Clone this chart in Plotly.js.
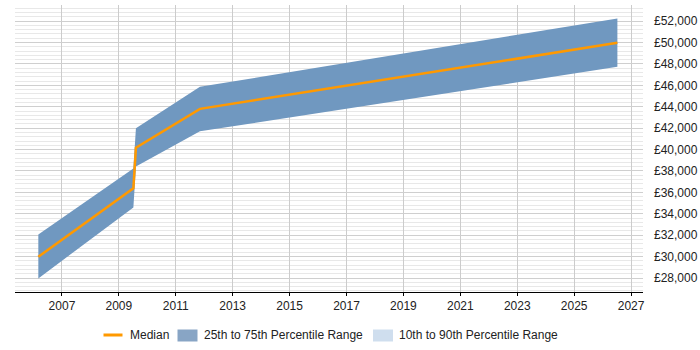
<!DOCTYPE html>
<html>
<head>
<meta charset="utf-8">
<script src="https://cdn.plot.ly/plotly-3.0.1.min.js"></script>
<style>
  html, body { margin: 0; padding: 0; background: #fff; }
  #chart { width: 700px; height: 350px; }
</style>
</head>
<body>
<div id="chart"></div>
<script>
// Salary trend: median with the 25th-75th percentile band
const years  = [2006.17, 2009.51, 2009.60, 2011.85, 2026.52];
const median = [29990, 36380, 40170, 43800, 49970];
const p75    = [32080, 38240, 41980, 45860, 52250];
const p25    = [27970, 34600, 38420, 41700, 47730];
const yearTicks = [2007, 2009, 2011, 2013, 2015, 2017, 2019, 2021, 2023, 2025, 2027];
const legendLabels = ['Median', '25th to 75th Percentile Range', '10th to 90th Percentile Range'];

const bandColor = '#7098c0';
const bandKeyColor = '#88a5c5';
const wideKeyColor = '#cfdeee';
const medianColor = '#ff9900';

// Plot area in pixels, used to place the key below the axis
const M = { l: 15, r: 57, t: 5, b: 58 };
const W = 700, H = 350;
const plotW = W - M.l - M.r, plotH = H - M.t - M.b;
const px = x => (x - M.l) / plotW;
const py = y => (H - M.b - y) / plotH;

const traces = [
  {
    x: years, y: p75, type: 'scatter', mode: 'lines',
    line: { width: 0, color: bandColor }, hoverinfo: 'skip'
  },
  {
    x: years, y: p25, type: 'scatter', mode: 'lines', fill: 'tonexty',
    fillcolor: bandColor, line: { width: 0, color: bandColor },
    name: legendLabels[1]
  },
  {
    x: years, y: median, type: 'scatter', mode: 'lines',
    line: { width: 2.5, color: medianColor },
    name: legendLabels[0]
  }
];

// Key: swatches and labels under the x axis
const keyY = 334.5;
const shapes = [
  { type: 'line', xref: 'paper', yref: 'paper',
    x0: px(103.5), x1: px(122.5), y0: py(335), y1: py(335),
    line: { color: medianColor, width: 3 } },
  { type: 'rect', xref: 'paper', yref: 'paper',
    x0: px(177.5), x1: px(197.5), y0: py(329.5), y1: py(341.5),
    fillcolor: bandKeyColor, line: { width: 0 } },
  { type: 'rect', xref: 'paper', yref: 'paper',
    x0: px(373), x1: px(393), y0: py(329.5), y1: py(341.5),
    fillcolor: wideKeyColor, line: { width: 0 } }
];
const keyX = [128.5, 202.5, 398.5];
const annotations = legendLabels.map((t, i) => ({
  text: t, xref: 'paper', yref: 'paper', x: px(keyX[i]), y: py(keyY),
  xanchor: 'left', yanchor: 'middle', showarrow: false, borderpad: 0,
  font: { size: 12, color: '#222' }
}));

const layout = {
  width: W, height: H,
  margin: { l: M.l, r: M.r, t: M.t, b: M.b, autoexpand: false },
  paper_bgcolor: '#ffffff', plot_bgcolor: '#ffffff',
  font: { family: 'Liberation Sans, Arial, sans-serif', size: 12, color: '#222' },
  showlegend: false,
  xaxis: {
    range: [2005.35, 2027.42],
    tickvals: yearTicks,
    ticktext: yearTicks.map(String),
    showgrid: true, gridcolor: '#cccccc', gridwidth: 1,
    zeroline: false,
    showline: true, linecolor: '#000', linewidth: 1,
    ticks: 'outside', ticklen: 3, tickcolor: '#000', tickwidth: 1
  },
  yaxis: {
    side: 'right',
    range: [26700, 53500],
    tick0: 28000, dtick: 2000,
    tickprefix: '£', tickformat: ',d',
    showgrid: true, gridcolor: '#cfcfcf', gridwidth: 1,
    minor: { dtick: 400, tick0: 0, showgrid: true, gridcolor: '#e8e8e8', gridwidth: 1 },
    zeroline: false, showline: false,
    ticks: '', ticklabelstandoff: 10
  },
  shapes: shapes,
  annotations: annotations
};

Plotly.newPlot('chart', traces, layout, { displayModeBar: false, staticPlot: true });
</script>
</body>
</html>
